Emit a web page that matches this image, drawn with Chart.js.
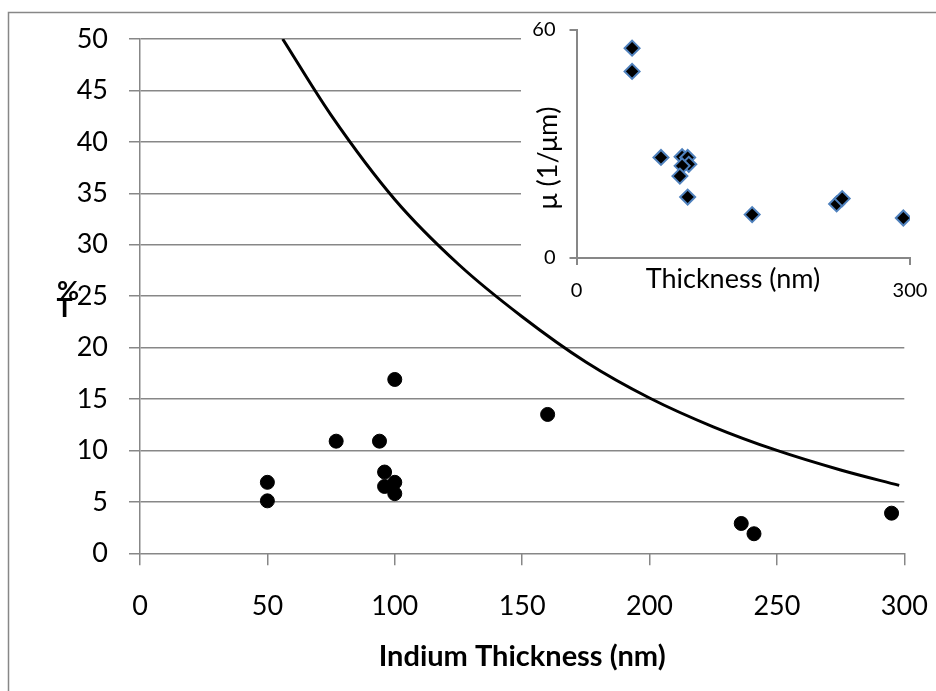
<!DOCTYPE html>
<html>
<head>
<meta charset="utf-8">
<script src="https://cdn.jsdelivr.net/npm/chart.js@4.4.0/dist/chart.umd.min.js"></script>
<style>
  body { margin: 0; background: #fff; }
  #wrap { position: relative; width: 936px; height: 691px; overflow: hidden; }
  #inset-box { position: absolute; left: 521px; top: 14px; width: 415px; height: 291px; background: #fff; }
  canvas { display: block; }
</style>
</head>
<body>
<div id="wrap">
  <canvas id="mainChart" width="936" height="691"></canvas>
  <div id="inset-box"><canvas id="insetChart" width="415" height="291"></canvas></div>
</div>
<script>
// --- Data ---
// measured transmission of the samples
const sampleThickness = [50, 50, 77, 94, 100, 96, 96, 100, 100, 160, 236, 241, 295];
const sampleT = [6.9, 5.1, 10.9, 10.9, 16.9, 7.9, 6.5, 6.9, 5.8, 13.5, 2.9, 1.9, 3.9];

// reference curve
const curveThickness = [56, 75, 100, 125, 150, 175, 200, 225, 250, 275, 298];
const curveT = [50, 42.6, 34.4, 28.1, 23.0, 18.6, 15.1, 12.3, 10.0, 8.1, 6.6];

// inset: absorption coefficient
const insetThickness = [50, 50, 76, 95, 100, 101, 95, 93, 100, 158, 234, 239, 294];
const insetMu = [55.1, 49.0, 26.4, 26.6, 26.4, 24.6, 24.2, 21.5, 16.0, 11.4, 14.2, 15.6, 10.5];

// tick labels
const mainXTicks = [0, 50, 100, 150, 200, 250, 300];
const mainYTicks = [0, 5, 10, 15, 20, 25, 30, 35, 40, 45, 50];
const insetXTicks = [0, 300];
const insetYTicks = [0, 60];

const gridGray = '#878787';
const fontFam = 'Lato, "Open Sans", sans-serif';

function toPoints(xs, ys) {
    return xs.map((x, i) => ({ x: x, y: ys[i] }));
}

// fixed axis box size, no extra label overflow padding
function fixBox(size) {
    return s => {
        if (s.isHorizontal()) s.height = size;
        else s.width = size;
        s.paddingLeft = s.paddingRight = s.paddingTop = s.paddingBottom = 0;
    };
}

// --- Main chart decorations: outer frame + stacked "%T" title ---
const mainDecor = {
    id: 'mainDecor',
    beforeDraw(chart) {
        const ctx = chart.ctx;
        ctx.save();
        ctx.fillStyle = '#fff';
        ctx.fillRect(0, 0, chart.width, chart.height);
        ctx.strokeStyle = gridGray;
        ctx.lineWidth = 1.5;
        ctx.beginPath();
        ctx.moveTo(8.5, chart.height);
        ctx.lineTo(8.5, 12.5);
        ctx.lineTo(chart.width, 12.5);
        ctx.stroke();
        ctx.restore();
    },
    afterDraw(chart) {
        const ctx = chart.ctx;
        ctx.save();
        ctx.fillStyle = '#000';
        ctx.font = 'bold 27px ' + fontFam;
        ctx.textAlign = 'center';
        ctx.textBaseline = 'alphabetic';
        ctx.fillText('%', 68, 300);
        ctx.fillText('T', 64.5, 317);
        ctx.restore();
    }
};

new Chart(document.getElementById('mainChart'), {
    type: 'scatter',
    data: {
        datasets: [{
            label: '%T',
            data: toPoints(sampleThickness, sampleT),
            pointStyle: 'circle',
            pointRadius: 7,
            backgroundColor: '#000',
            borderColor: '#000',
            borderWidth: 1
        }, {
            label: 'curve',
            data: toPoints(curveThickness, curveT),
            showLine: true,
            pointRadius: 0,
            borderColor: '#000',
            borderWidth: 3,
            cubicInterpolationMode: 'monotone'
        }]
    },
    options: {
        responsive: false,
        animation: false,
        devicePixelRatio: 1,
        layout: { padding: { top: 39, right: 31.7, left: 0, bottom: 0 } },
        plugins: { legend: { display: false }, tooltip: { enabled: false } },
        scales: {
            x: {
                type: 'linear', min: 0, max: 300,
                afterBuildTicks: s => { s.ticks = mainXTicks.map(v => ({ value: v })); },
                afterFit: fixBox(137.7),
                grid: { drawOnChartArea: false, color: gridGray, lineWidth: 1.5, tickLength: 12 },
                border: { display: false },
                ticks: { color: '#000', font: { family: fontFam, size: 27 }, padding: 25 },
                title: {
                    display: true, text: 'Indium Thickness (nm)', color: '#000',
                    font: { family: fontFam, size: 29, weight: 'bold' },
                    padding: { top: 0, bottom: 17 }
                }
            },
            y: {
                type: 'linear', min: 0, max: 50,
                afterBuildTicks: s => { s.ticks = mainYTicks.map(v => ({ value: v })); },
                afterFit: fixBox(140),
                grid: { color: gridGray, lineWidth: 1.5, tickLength: 11 },
                border: { color: gridGray, width: 1.5 },
                ticks: { color: '#000', font: { family: fontFam, size: 27 }, padding: 21 }
            }
        }
    },
    plugins: [mainDecor]
});

// --- Inset titles ---
const insetTitles = {
    id: 'insetTitles',
    beforeDraw(chart) {
        const ctx = chart.ctx;
        ctx.save();
        ctx.fillStyle = '#fff';
        ctx.fillRect(0, 0, chart.width, chart.height);
        ctx.restore();
    },
    afterDraw(chart) {
        const ctx = chart.ctx;
        ctx.save();
        ctx.fillStyle = '#000';
        ctx.font = '27px ' + fontFam;
        ctx.textAlign = 'center';
        ctx.textBaseline = 'alphabetic';
        ctx.fillText('Thickness (nm)', 212, 274);
        ctx.translate(27, 144);
        ctx.rotate(-Math.PI / 2);
        ctx.textBaseline = 'middle';
        ctx.fillText('\u03bc (1/\u03bcm)', 0, 0);
        ctx.restore();
    }
};

new Chart(document.getElementById('insetChart'), {
    type: 'scatter',
    data: {
        datasets: [{
            label: 'mu',
            data: toPoints(insetThickness, insetMu),
            pointStyle: 'rectRot',
            pointRadius: 7.5,
            backgroundColor: '#000',
            borderColor: '#4f81bd',
            borderWidth: 2
        }]
    },
    options: {
        responsive: false,
        animation: false,
        devicePixelRatio: 1,
        layout: { padding: { top: 15.5, right: 26, left: 0, bottom: 0 } },
        plugins: { legend: { display: false }, tooltip: { enabled: false } },
        scales: {
            x: {
                type: 'linear', min: 0, max: 300,
                afterBuildTicks: s => { s.ticks = insetXTicks.map(v => ({ value: v })); },
                afterFit: fixBox(47),
                grid: { drawOnChartArea: false, color: gridGray, lineWidth: 2, tickLength: 7 },
                border: { color: gridGray, width: 2 },
                ticks: { color: '#000', font: { family: fontFam, size: 20 }, padding: 14 }
            },
            y: {
                type: 'linear', min: 0, max: 60,
                afterBuildTicks: s => { s.ticks = insetYTicks.map(v => ({ value: v })); },
                afterFit: fixBox(55.5),
                grid: { drawOnChartArea: false, color: gridGray, lineWidth: 2, tickLength: 7 },
                border: { color: gridGray, width: 2 },
                ticks: { color: '#000', font: { family: fontFam, size: 20 }, padding: 14 }
            }
        }
    },
    plugins: [insetTitles]
});
</script>
</body>
</html>
